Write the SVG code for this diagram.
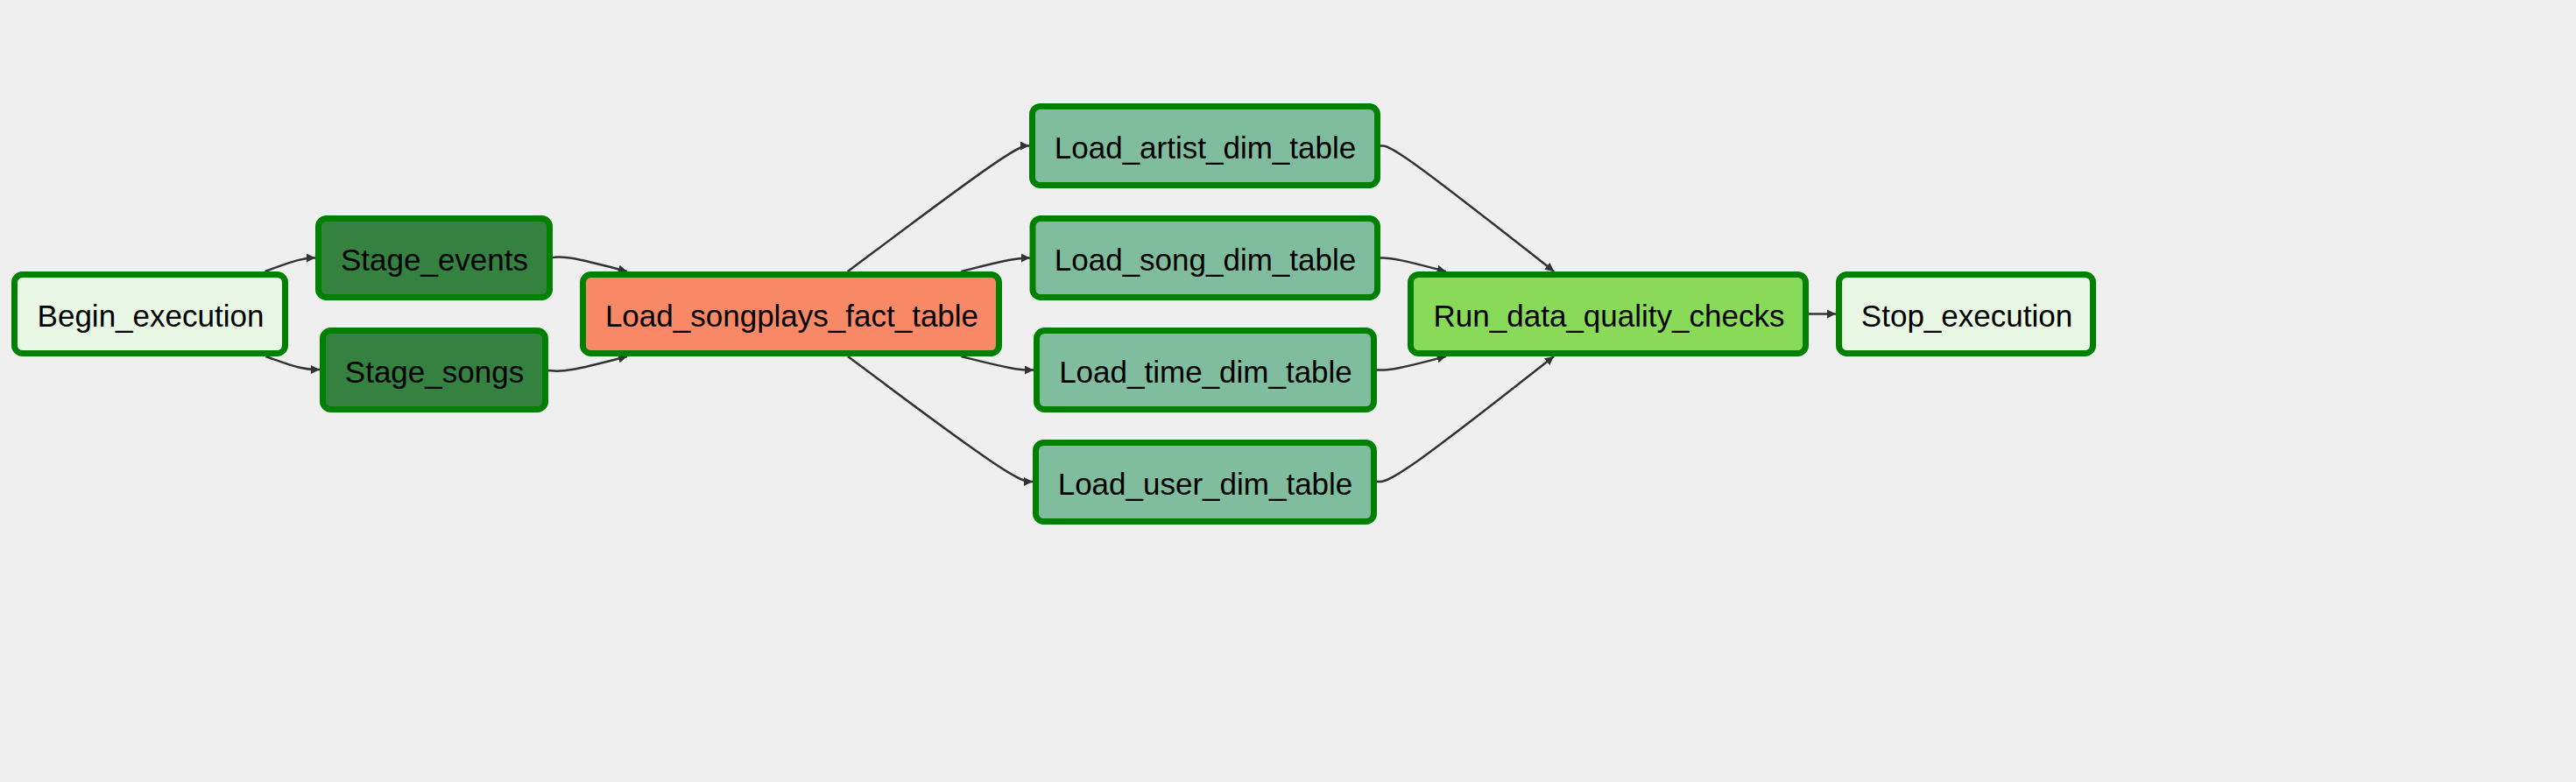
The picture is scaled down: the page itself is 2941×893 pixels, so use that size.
<svg xmlns="http://www.w3.org/2000/svg" width="2941" height="893" viewBox="0 0 2941 893">
<style>
.node rect{stroke:#008000;stroke-width:7}
.node text{font-family:"Liberation Sans",Arial,sans-serif;font-size:35px;fill:#000;text-anchor:middle}
.dummy{fill:#e8f7e4}
.stage{fill:#358140}
.fact{fill:#f98866}
.dim{fill:#80bd9e}
.dq{fill:#89da59}
#edges path{fill:none;stroke:#333;stroke-width:2.5;marker-end:url(#arrow)}
</style>
<defs>
<marker id="arrow" viewBox="0 0 10 10" refX="10" refY="5" markerWidth="10" markerHeight="10" markerUnits="userSpaceOnUse" orient="auto">
<path d="M0,0 L10,5 L0,10 z" fill="#333"/>
</marker>
</defs>
<rect x="0" y="0" width="2941" height="893" fill="#efefef"/>
<g id="edges">
<path d="M302.5,310 L309.5,307.4 C316.5,304.8 330.5,299.7 340.1,297.1 C349.7,294.5 354.8,294.5 357.4,294.5 L360,294.5"/>
<path d="M303.5,407 L310.3,409.5 C317.2,412 330.8,417 341.1,419.5 C351.3,422 358.2,422 361.6,422 L365,422"/>
<path d="M631,294 L633.6,293.7 C636.2,293.3 641.3,292.7 655.5,295.3 C669.7,298 692.8,304 704.4,307 L716,310"/>
<path d="M626,423 L629.4,423.3 C632.8,423.7 639.7,424.3 654.7,421.7 C669.7,419 692.8,413 704.4,410 L716,407"/>
<path d="M967.8,310 L999.8,286.1 C1031.7,262.2 1095.6,214.3 1130.1,190.4 C1164.7,166.5 1169.8,166.5 1172.4,166.5 L1175,166.5"/>
<path d="M1097.4,310 L1107.8,307.4 C1118.1,304.8 1138.8,299.7 1151.9,297.1 C1165,294.5 1170.5,294.5 1173.3,294.5 L1176,294.5"/>
<path d="M1097.4,407 L1107.8,409.6 C1118.1,412.2 1138.8,417.3 1152.6,419.9 C1166.3,422.5 1173.2,422.5 1176.6,422.5 L1180,422.5"/>
<path d="M968,407 L999.9,430.8 C1031.8,454.7 1095.7,502.3 1130.8,526.2 C1166,550 1172.5,550 1175.8,550 L1179,550"/>
<path d="M1576,166.5 L1578.6,166.5 C1581.2,166.5 1586.3,166.5 1619.4,190.4 C1652.4,214.3 1713.3,262.2 1743.8,286.1 L1774.2,310"/>
<path d="M1576,294.5 L1578.6,294.5 C1581.2,294.5 1586.3,294.5 1598.8,297.1 C1611.2,299.7 1631,304.8 1640.8,307.4 L1650.7,310"/>
<path d="M1572,422.5 L1575.3,422.5 C1578.5,422.5 1585,422.5 1598.1,419.9 C1611.2,417.3 1631,412.2 1640.8,409.6 L1650.7,407"/>
<path d="M1572,550 L1575.3,550 C1578.5,550 1585,550 1618.7,526.2 C1652.3,502.3 1713.2,454.7 1743.6,430.8 L1774,407"/>
<path d="M2065,358.5 L2096,358.5"/>
</g>
<g id="Begin_execution" class="node"><rect class="dummy" x="16.5" y="313.5" width="309" height="90" rx="9"/><text x="172" y="373">Begin_execution</text></g>
<g id="Stage_events" class="node"><rect class="stage" x="363.5" y="249.5" width="264" height="90" rx="9"/><text x="496" y="309">Stage_events</text></g>
<g id="Stage_songs" class="node"><rect class="stage" x="368.5" y="377.5" width="254" height="90" rx="9"/><text x="496" y="437">Stage_songs</text></g>
<g id="Load_songplays_fact_table" class="node"><rect class="fact" x="665.5" y="313.5" width="475" height="90" rx="9"/><text x="904" y="373">Load_songplays_fact_table</text></g>
<g id="Load_artist_dim_table" class="node"><rect class="dim" x="1178.5" y="121.5" width="394" height="90" rx="9"/><text x="1376" y="181">Load_artist_dim_table</text></g>
<g id="Load_song_dim_table" class="node"><rect class="dim" x="1179" y="249.5" width="393.5" height="90" rx="9"/><text x="1376" y="309">Load_song_dim_table</text></g>
<g id="Load_time_dim_table" class="node"><rect class="dim" x="1183.5" y="377.5" width="385" height="90" rx="9"/><text x="1376.5" y="437">Load_time_dim_table</text></g>
<g id="Load_user_dim_table" class="node"><rect class="dim" x="1182.5" y="505.5" width="386" height="90" rx="9"/><text x="1376" y="565">Load_user_dim_table</text></g>
<g id="Run_data_quality_checks" class="node"><rect class="dq" x="1610.5" y="313.5" width="451" height="90" rx="9"/><text x="1837" y="373">Run_data_quality_checks</text></g>
<g id="Stop_execution" class="node"><rect class="dummy" x="2099.5" y="313.5" width="290" height="90" rx="9"/><text x="2245.5" y="373">Stop_execution</text></g>
</svg>
